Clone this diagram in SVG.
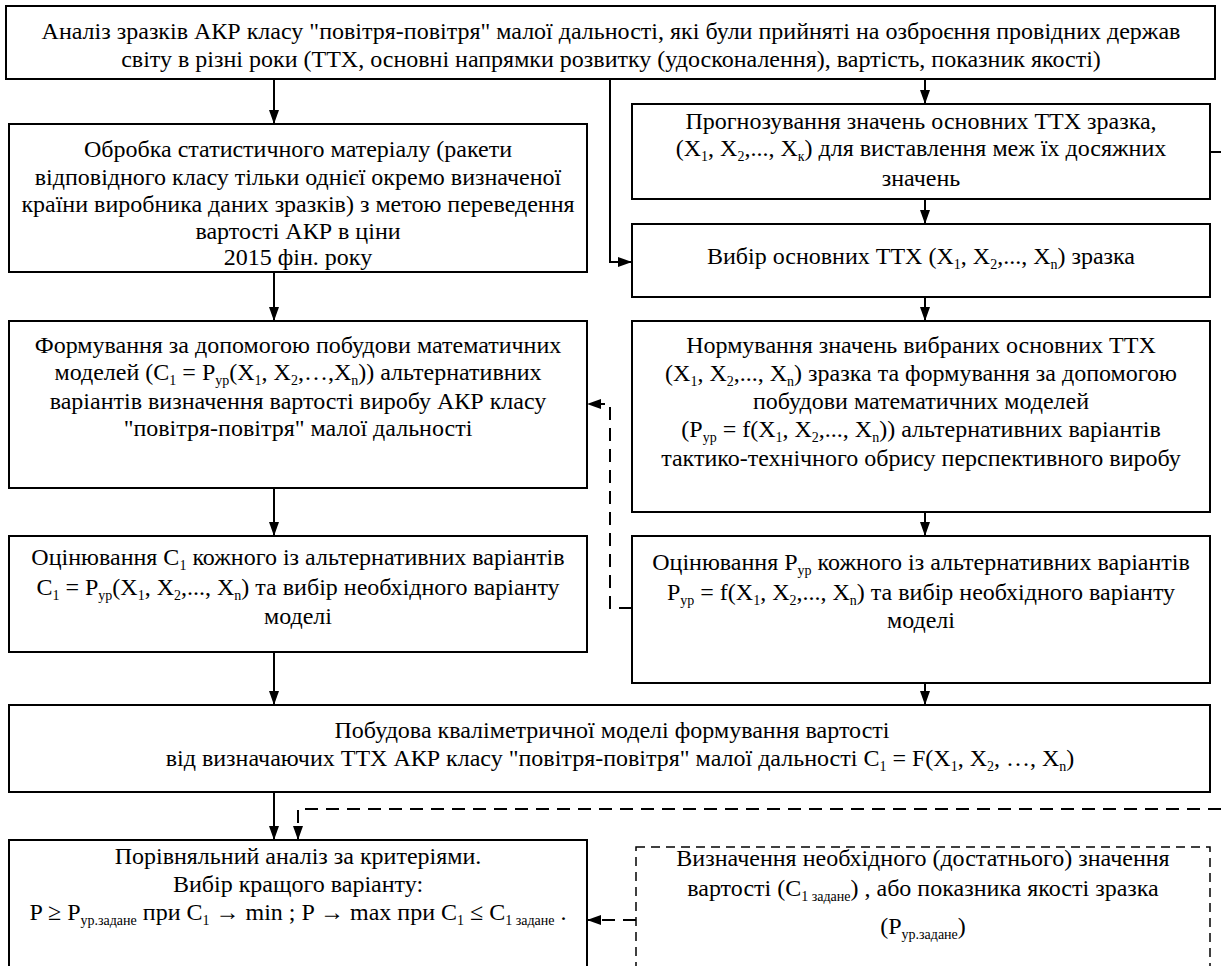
<svg xmlns="http://www.w3.org/2000/svg" width="1221" height="966" viewBox="0 0 1221 966">
<style>
.b{fill:#fff;stroke:#000;stroke-width:2}
.bd{fill:#fff;stroke:#000;stroke-width:1.5;stroke-dasharray:9,6}
.t{font-family:"Liberation Serif","Times New Roman","DejaVu Serif",serif;font-size:24px;text-anchor:middle;fill:#000}
.s{font-size:14px}
.c{fill:none;stroke:#000;stroke-width:2}
.d{fill:none;stroke:#000;stroke-width:2;stroke-dasharray:13,8}
</style>
<defs>
<marker id="ah" viewBox="0 0 14 10" refX="14" refY="5" markerWidth="14" markerHeight="10" markerUnits="userSpaceOnUse" orient="auto"><path d="M0,0 L14,5 L0,10 z" fill="#000"/></marker>
</defs>
<rect width="1221" height="966" fill="#fff"/>
<g id="connectors">
<path class="c" d="M274,79 V124" marker-end="url(#ah)"/>
<path class="c" d="M925,79 V104" marker-end="url(#ah)"/>
<path class="c" d="M610,79 V262 H632" marker-end="url(#ah)"/>
<path class="c" d="M1210,152 H1221"/>
<path class="c" d="M925,199 V224" marker-end="url(#ah)"/>
<path class="c" d="M925,297 V321" marker-end="url(#ah)"/>
<path class="c" d="M925,512 V536" marker-end="url(#ah)"/>
<path class="c" d="M925,683 V705" marker-end="url(#ah)"/>
<path class="c" d="M274,272 V321" marker-end="url(#ah)"/>
<path class="c" d="M274,488 V536" marker-end="url(#ah)"/>
<path class="c" d="M274,652 V705" marker-end="url(#ah)"/>
<path class="c" d="M274,792 V840" marker-end="url(#ah)"/>
<path class="d" d="M632,608 H610 V404 H587" marker-end="url(#ah)"/>
<path class="d" d="M1221,809 H298 V840" marker-end="url(#ah)"/>
<path class="d" d="M636,920 H587" marker-end="url(#ah)"/>
</g>
<g id="n1">
<rect class="b" x="6" y="6" width="1209" height="73"/>
<text class="t" x="611" y="39">Аналіз зразків АКР класу "повітря-повітря" малої дальності, які були прийняті на озброєння провідних держав</text>
<text class="t" x="611" y="67">світу в різні роки (ТТХ, основні напрямки розвитку (удосконалення), вартість, показник якості)</text>
</g>
<g id="n2">
<rect class="b" x="9" y="124" width="578" height="148"/>
<text class="t" x="298" y="157">Обробка статистичного матеріалу (ракети</text>
<text class="t" x="298" y="185">відповідного класу тільки однієї окремо визначеної</text>
<text class="t" x="298" y="212">країни виробника даних зразків) з метою переведення</text>
<text class="t" x="298" y="239">вартості АКР в ціни</text>
<text class="t" x="298" y="265">2015 фін. року</text>
</g>
<g id="n3">
<rect class="b" x="632" y="104" width="578" height="95"/>
<text class="t" x="921" y="129">Прогнозування значень основних ТТХ зразка,</text>
<text class="t" x="921" y="156">(X<tspan class="s" dy="5">1</tspan><tspan dy="-5">, X</tspan><tspan class="s" dy="5">2</tspan><tspan dy="-5">,..., X</tspan><tspan class="s" dy="5">к</tspan><tspan dy="-5">)  для виставлення меж їх досяжних</tspan></text>
<text class="t" x="921" y="186">значень</text>
</g>
<g id="n4">
<rect class="b" x="632" y="224" width="578" height="73"/>
<text class="t" x="921" y="264">Вибір основних ТТХ  (X<tspan class="s" dy="5">1</tspan><tspan dy="-5">, X</tspan><tspan class="s" dy="5">2</tspan><tspan dy="-5">,..., X</tspan><tspan class="s" dy="5">n</tspan><tspan dy="-5">)  зразка</tspan></text>
</g>
<g id="n5">
<rect class="b" x="9" y="321" width="578" height="167"/>
<text class="t" x="298" y="353">Формування за допомогою побудови математичних</text>
<text class="t" x="298" y="380">моделей  (C<tspan class="s" dy="5">1</tspan><tspan dy="-5"> = P</tspan><tspan class="s" dy="5">ур</tspan><tspan dy="-5">(X</tspan><tspan class="s" dy="5">1</tspan><tspan dy="-5">, X</tspan><tspan class="s" dy="5">2</tspan><tspan dy="-5">,…,X</tspan><tspan class="s" dy="5">n</tspan><tspan dy="-5">))  альтернативних</tspan></text>
<text class="t" x="298" y="409">варіантів визначення вартості виробу АКР класу</text>
<text class="t" x="298" y="436">"повітря-повітря" малої дальності</text>
</g>
<g id="n6">
<rect class="b" x="632" y="321" width="578" height="191"/>
<text class="t" x="921" y="353">Нормування значень вибраних основних ТТХ</text>
<text class="t" x="921" y="381">(X<tspan class="s" dy="5">1</tspan><tspan dy="-5">, X</tspan><tspan class="s" dy="5">2</tspan><tspan dy="-5">,..., X</tspan><tspan class="s" dy="5">n</tspan><tspan dy="-5">)   зразка та формування за допомогою</tspan></text>
<text class="t" x="921" y="409">побудови математичних моделей</text>
<text class="t" x="921" y="437">(P<tspan class="s" dy="5">ур</tspan><tspan dy="-5"> = f(X</tspan><tspan class="s" dy="5">1</tspan><tspan dy="-5">, X</tspan><tspan class="s" dy="5">2</tspan><tspan dy="-5">,..., X</tspan><tspan class="s" dy="5">n</tspan><tspan dy="-5">))  альтернативних варіантів</tspan></text>
<text class="t" x="921" y="466">тактико-технічного обрису перспективного виробу</text>
</g>
<g id="n7">
<rect class="b" x="9" y="536" width="578" height="116"/>
<text class="t" x="298" y="565">Оцінювання  C<tspan class="s" dy="5">1</tspan><tspan dy="-5">  кожного із альтернативних варіантів</tspan></text>
<text class="t" x="298" y="595">C<tspan class="s" dy="5">1</tspan><tspan dy="-5"> = P</tspan><tspan class="s" dy="5">ур</tspan><tspan dy="-5">(X</tspan><tspan class="s" dy="5">1</tspan><tspan dy="-5">, X</tspan><tspan class="s" dy="5">2</tspan><tspan dy="-5">,..., X</tspan><tspan class="s" dy="5">n</tspan><tspan dy="-5">)  та вибір необхідного варіанту</tspan></text>
<text class="t" x="298" y="624">моделі</text>
</g>
<g id="n8">
<rect class="b" x="632" y="536" width="578" height="147"/>
<text class="t" x="921" y="570">Оцінювання  P<tspan class="s" dy="5">ур</tspan><tspan dy="-5">  кожного із альтернативних варіантів</tspan></text>
<text class="t" x="921" y="600">P<tspan class="s" dy="5">ур</tspan><tspan dy="-5"> = f(X</tspan><tspan class="s" dy="5">1</tspan><tspan dy="-5">, X</tspan><tspan class="s" dy="5">2</tspan><tspan dy="-5">,..., X</tspan><tspan class="s" dy="5">n</tspan><tspan dy="-5">) та вибір необхідного варіанту</tspan></text>
<text class="t" x="921" y="628">моделі</text>
</g>
<g id="n9">
<rect class="b" x="9" y="705" width="1201" height="87"/>
<text class="t" x="612" y="738">Побудова кваліметричної моделі формування вартості</text>
<text class="t" x="620" y="766">від визначаючих ТТХ АКР класу "повітря-повітря" малої дальності  C<tspan class="s" dy="5">1</tspan><tspan dy="-5"> =  F(X</tspan><tspan class="s" dy="5">1</tspan><tspan dy="-5">, X</tspan><tspan class="s" dy="5">2</tspan><tspan dy="-5">,  …, X</tspan><tspan class="s" dy="5">n</tspan><tspan dy="-5">)</tspan></text>
</g>
<g id="n10">
<rect class="b" x="9" y="840" width="578" height="140"/>
<text class="t" x="298" y="864">Порівняльний аналіз за критеріями.</text>
<text class="t" x="298" y="892">Вибір кращого варіанту:</text>
<text class="t" x="298" y="920">P ≥ P<tspan class="s" dy="5">ур.задане</tspan><tspan dy="-5">  при  C</tspan><tspan class="s" dy="5">1</tspan><tspan dy="-5"> → min ;  P → max   при  C</tspan><tspan class="s" dy="5">1</tspan><tspan dy="-5"> ≤ C</tspan><tspan class="s" dy="5">1 задане</tspan><tspan dy="-5"> .</tspan></text>
</g>
<g id="n11">
<rect class="bd" x="636" y="847" width="574" height="133"/>
<text class="t" x="923" y="866">Визначення необхідного (достатнього) значення</text>
<text class="t" x="923" y="896">вартості  (C<tspan class="s" dy="5">1 задане</tspan><tspan dy="-5">) , або показника якості зразка</tspan></text>
<text class="t" x="923" y="934">(P<tspan class="s" dy="5">ур.задане</tspan><tspan dy="-5">)</tspan></text>
</g>
</svg>
